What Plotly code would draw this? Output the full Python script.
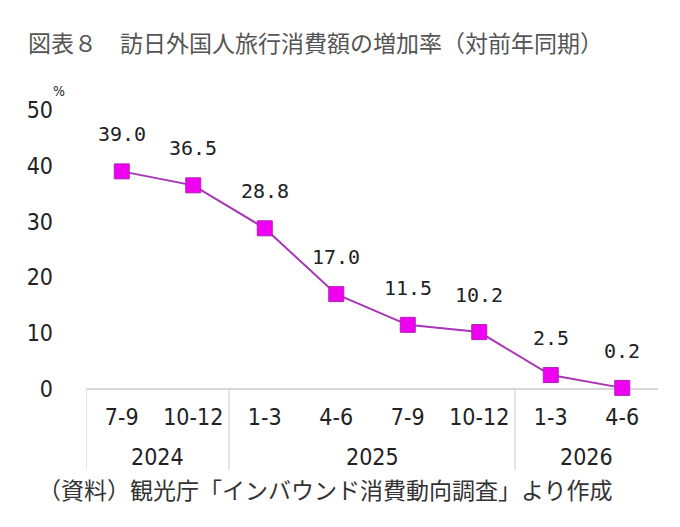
import plotly.graph_objects as go

quarters = ["7-9", "10-12", "1-3", "4-6", "7-9", "10-12", "1-3", "4-6"]
years = ["2024", "2025", "2026"]
year_counts = [2, 4, 2]
values = [39.0, 36.5, 28.8, 17.0, 11.5, 10.2, 2.5, 0.2]
yticks = [0, 10, 20, 30, 40, 50]

title_text = "図表８　訪日外国人旅行消費額の増加率（対前年同期）"
source_text = "（資料）観光庁「インバウンド消費動向調査」より作成"

JP = "Noto Sans CJK JP"
COND = "DejaVu Sans Condensed"
MONO = "DejaVu Sans Mono, monospace"

xs = list(range(len(values)))

fig = go.Figure()
fig.add_trace(go.Scatter(
    x=xs, y=values, mode="lines+markers",
    line=dict(color="#A636B4", width=2),
    marker=dict(symbol="square", size=15, color="#F000F0",
                line=dict(color="#B020B8", width=1)),
    cliponaxis=False, hoverinfo="skip",
))

annotations = []
for x, v in zip(xs, values):
    annotations.append(dict(
        x=x, y=v, xref="x", yref="y", text=f"{v:.1f}", showarrow=False,
        yshift=37, font=dict(family=MONO, size=20, color="#222222"),
    ))

shapes = []
start = 0
bounds = [-0.5]
for yr, n in zip(years, year_counts):
    center = start + (n - 1) / 2
    annotations.append(dict(
        x=center, y=-0.245, xref="x", yref="paper", text=yr, showarrow=False,
        font=dict(family=COND, size=23, color="#222222"), yanchor="middle",
    ))
    start += n
    bounds.append(start - 0.5)
for b in bounds[:-1]:
    shapes.append(dict(type="line", xref="x", yref="paper", x0=b, x1=b,
                       y0=0, y1=-0.29, line=dict(color="#CCCCCC", width=1)))

annotations.append(dict(
    x=-0.062, y=1.105, xref="paper", yref="paper", text="%", showarrow=False,
    font=dict(family=COND, size=14, color="#222222"),
))
annotations.append(dict(
    x=-0.087, y=-0.36, xref="paper", yref="paper", text=source_text,
    showarrow=False, xanchor="left", yanchor="middle",
    font=dict(family=JP, size=23, color="#333333"),
))

fig.update_layout(
    width=680, height=527,
    margin=dict(l=78, r=30, t=102, b=146),
    paper_bgcolor="white", plot_bgcolor="white",
    showlegend=False,
    title=dict(text=title_text, x=20 / 680, xref="container", xanchor="left",
               y=1 - 36 / 527, yref="container", yanchor="middle",
               font=dict(family=JP, size=23, color="#555555")),
    xaxis=dict(range=[-0.5, 7.5], tickvals=xs, ticktext=quarters,
               showgrid=False, zeroline=False, showline=False, ticks="",
               tickfont=dict(family=COND, size=23, color="#222222"),
               ticklabelstandoff=12, fixedrange=True),
    yaxis=dict(range=[0, 50], tickvals=yticks, showgrid=False,
               zeroline=True, zerolinecolor="#D8D8D8", zerolinewidth=1.5,
               showline=False, ticks="",
               tickfont=dict(family=COND, size=23, color="#222222"),
               ticklabelstandoff=32, fixedrange=True),
    annotations=annotations, shapes=shapes,
)

fig.write_html("out.html")
